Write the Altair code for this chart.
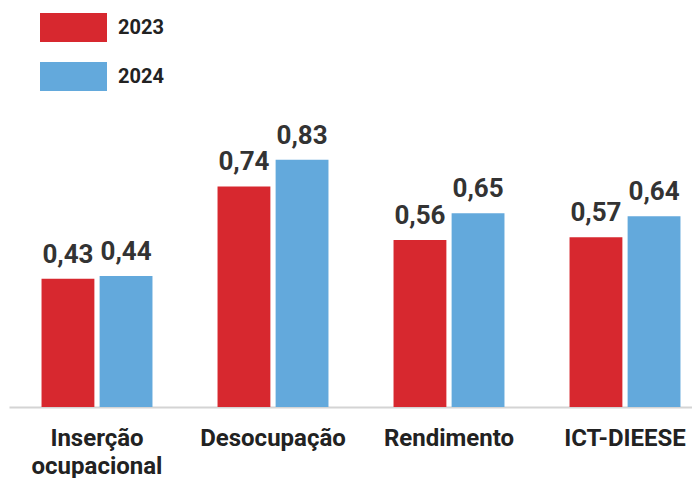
import altair as alt
import pandas as pd

categories = ["Inserção\nocupacional", "Desocupação", "Rendimento", "ICT-DIEESE"]
years = ["2023", "2024"]
values_2023 = [0.43, 0.74, 0.56, 0.57]
values_2024 = [0.44, 0.83, 0.65, 0.64]
colors = ["#d7282f", "#63a9dc"]

rows = []
for c, a, b in zip(categories, values_2023, values_2024):
    rows.append({"cat": c, "year": years[0], "value": a})
    rows.append({"cat": c, "year": years[1], "value": b})
df = pd.DataFrame(rows)

FONT = "Roboto, sans-serif"

base = alt.Chart(df).encode(
    x=alt.X("cat:N", sort=categories, title=None,
            scale=alt.Scale(range=[1, 705], paddingInner=0, paddingOuter=0),
            axis=alt.Axis(labelAngle=0, ticks=False, domain=True, domainColor="#d4d4d4",
                          domainWidth=2, labelFont=FONT, labelFontSize=24,
                          labelFontWeight="bold", labelColor="#222222", labelPadding=19,
                          labelLineHeight=28, labelBaseline="top",
                          labelExpr="split(datum.label, '\\n')")),
    xOffset=alt.XOffset("year:N", sort=years,
                        scale=alt.Scale(paddingInner=0.09, paddingOuter=0.56)),
    y=alt.Y("value:Q", scale=alt.Scale(domain=[0, 1]), axis=None),
)

bars = base.mark_bar().encode(
    color=alt.Color("year:N", sort=years,
                    scale=alt.Scale(domain=years, range=colors),
                    legend=alt.Legend(title=None, orient="none", legendX=32, legendY=-115,
                                      symbolType="M-1,-0.433H1V0.433H-1Z", symbolSize=4489,
                                      symbolStrokeWidth=0, symbolOpacity=1, rowPadding=-7,
                                      labelFont=FONT, labelFontSize=20, labelFontWeight="bold",
                                      labelColor="#222222", labelOffset=11)),
)

labels = base.transform_calculate(
    txt="replace(format(datum.value, '.2f'), '.', ',')"
).mark_text(baseline="alphabetic", dy=-16, font=FONT, fontSize=26, fontWeight="bold",
            color="#333333").encode(text="txt:N")

chart = (bars + labels).properties(
    width=684, height=298,
    padding={"left": 0, "top": 101, "right": 0, "bottom": 71},
    autosize=alt.AutoSizeParams(type="none"),
).configure_view(stroke=None)

chart.save("out.html", embed_options={"renderer": "svg", "actions": False})
